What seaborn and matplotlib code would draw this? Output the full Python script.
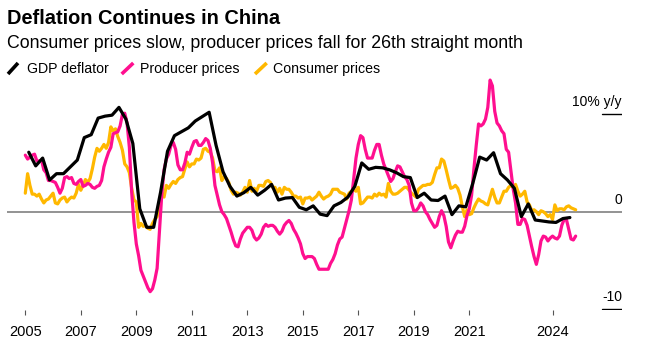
import numpy as np
import pandas as pd
import matplotlib
matplotlib.use("Agg")
import matplotlib.pyplot as plt
from matplotlib.lines import Line2D
import seaborn as sns

TITLE = "Deflation Continues in China"
SUBTITLE = "Consumer prices slow, producer prices fall for 26th straight month"
SERIES = ["GDP deflator", "Producer prices", "Consumer prices"]
COLORS = {"GDP deflator": "#000000", "Producer prices": "#ff0f8f", "Consumer prices": "#ffb800"}
YEAR_TICKS = [2005, 2007, 2009, 2011, 2013, 2015, 2017, 2019, 2021, 2024]
Y_LABEL_VALUES = [10, 0, -10]
Y_LABEL_TEXTS = ["10% y/y", "0", "-10"]

# Monthly, Jan 2005 - Nov 2024 (% y/y)
producer_prices = [
    5.8, 5.4, 5.6, 5.8, 5.9, 5.2, 5.2, 5.3, 4.3, 4.0, 3.2, 3.2,
    3.1, 3.0, 2.5, 1.9, 2.4, 3.5, 3.6, 3.4, 3.5, 2.9, 2.8, 3.1,
    3.3, 2.6, 2.7, 2.9, 2.8, 2.5, 2.4, 2.6, 2.7, 3.2, 4.6, 5.4,
    6.1, 6.6, 8.0, 8.1, 8.2, 8.8, 10.0, 10.1, 9.1, 6.6, 2.0, -1.1,
    -3.3, -4.5, -6.0, -6.6, -7.2, -7.8, -8.2, -7.9, -7.0, -5.8, -2.1, 1.7,
    4.3, 5.4, 5.9, 6.8, 7.1, 6.4, 4.8, 4.3, 4.3, 5.0, 6.1, 5.9,
    6.6, 7.2, 7.3, 6.8, 6.8, 7.1, 7.5, 7.3, 6.5, 5.0, 2.7, 1.7,
    0.7, 0.0, -0.3, -0.7, -1.4, -2.1, -2.9, -3.5, -3.6, -2.8, -2.2, -1.9,
    -1.6, -1.6, -1.9, -2.6, -2.9, -2.7, -2.3, -1.6, -1.3, -1.5, -1.4, -1.4,
    -1.6, -2.0, -2.3, -2.0, -1.4, -1.1, -0.9, -1.2, -1.8, -2.2, -2.7, -3.3,
    -4.3, -4.8, -4.6, -4.6, -4.6, -4.8, -5.4, -5.9, -5.9, -5.9, -5.9, -5.9,
    -5.3, -4.9, -4.3, -3.4, -2.8, -2.6, -1.7, -0.8, 0.1, 1.2, 3.3, 5.5,
    6.9, 7.8, 7.6, 6.4, 5.5, 5.5, 5.5, 6.3, 6.9, 6.9, 5.8, 4.9,
    4.3, 3.7, 3.1, 3.4, 4.1, 4.7, 4.6, 4.1, 3.6, 3.3, 2.7, 0.9,
    0.1, 0.1, 0.4, 0.9, 0.6, 0.0, -0.3, -0.8, -1.2, -1.6, -1.4, -0.5,
    0.1, -0.4, -1.5, -3.1, -3.7, -3.0, -2.4, -2.0, -2.1, -2.1, -1.5, -0.4,
    0.3, 1.7, 4.4, 6.8, 9.0, 8.8, 9.0, 9.5, 10.7, 13.5, 12.9, 10.3,
    9.1, 8.8, 8.3, 8.0, 6.4, 6.1, 4.2, 2.3, 0.9, -1.3, -1.3, -0.7,
    -0.8, -1.4, -2.5, -3.6, -4.6, -5.4, -4.4, -3.0, -2.5, -2.6, -3.0, -2.7,
    -2.5, -2.7, -2.8, -2.5, -1.4, -0.8, -0.8, -1.8, -2.8, -2.9, -2.5,
]

consumer_prices = [
    1.9, 3.9, 2.7, 1.8, 1.8, 1.6, 1.8, 1.3, 0.9, 1.2, 1.3, 1.6,
    1.9, 0.9, 0.8, 1.2, 1.4, 1.5, 1.0, 1.3, 1.5, 1.4, 1.9, 2.8,
    2.2, 2.7, 3.3, 3.0, 3.4, 4.4, 5.6, 6.5, 6.2, 6.5, 6.9, 6.5,
    7.1, 8.7, 8.3, 8.5, 7.7, 7.1, 6.3, 4.9, 4.6, 4.0, 2.4, 1.2,
    1.0, -1.6, -1.2, -1.5, -1.4, -1.7, -1.8, -1.2, -0.8, -0.5, 0.6, 1.9,
    1.5, 2.7, 2.4, 2.8, 3.1, 2.9, 3.3, 3.5, 3.6, 4.4, 5.1, 4.6,
    4.9, 4.9, 5.4, 5.3, 5.5, 6.4, 6.5, 6.2, 6.1, 5.5, 4.2, 4.1,
    4.5, 3.2, 3.6, 3.4, 3.0, 2.2, 1.8, 2.0, 1.9, 1.7, 2.0, 2.5,
    2.0, 3.2, 2.1, 2.4, 2.1, 2.7, 2.7, 2.6, 3.1, 3.2, 3.0, 2.5,
    2.5, 2.0, 2.4, 1.8, 2.5, 2.3, 2.3, 2.0, 1.6, 1.6, 1.4, 1.5,
    0.8, 1.4, 1.4, 1.5, 1.2, 1.4, 1.6, 2.0, 1.6, 1.3, 1.5, 1.6,
    1.8, 2.3, 2.3, 2.3, 2.0, 1.9, 1.8, 1.3, 1.9, 2.1, 2.3, 2.1,
    2.5, 0.8, 0.9, 1.2, 1.5, 1.5, 1.4, 1.8, 1.6, 1.9, 1.7, 1.8,
    1.5, 2.9, 2.1, 1.8, 1.8, 1.9, 2.1, 2.3, 2.5, 2.5, 2.2, 1.9,
    1.7, 1.5, 2.3, 2.5, 2.7, 2.7, 2.8, 2.8, 3.0, 3.8, 4.5, 4.5,
    5.4, 5.2, 4.3, 3.3, 2.4, 2.5, 2.7, 2.4, 1.7, 0.5, -0.5, 0.2,
    -0.3, -0.2, 0.4, 0.9, 1.3, 1.1, 1.0, 0.8, 0.7, 1.5, 2.3, 1.5,
    0.9, 0.9, 1.5, 2.1, 2.1, 2.5, 2.7, 2.5, 2.8, 2.1, 1.6, 1.8,
    2.1, 1.0, 0.7, 0.1, 0.2, 0.0, -0.3, 0.1, 0.0, -0.2, -0.5, -0.3,
    -0.8, 0.7, 0.1, 0.3, 0.3, 0.2, 0.5, 0.6, 0.4, 0.3, 0.2,
]

# Quarterly, 2005 Q1 - 2024 Q3 (% y/y)
gdp_deflator = [
    6.1, 4.7, 5.5, 3.25,
    3.9, 3.9, 4.6, 5.3,
    7.6, 7.9, 9.6, 9.8,
    9.9, 10.7, 9.5, 7.0,
    0.3, -1.6, -1.6, 2.0,
    6.2, 7.8, 8.2, 8.6,
    9.3, 9.75, 10.2, 6.8,
    4.1, 2.6, 1.6, 1.95,
    2.5, 1.7, 2.2, 2.8,
    1.2, 1.4, 1.45, 0.45,
    0.2, 0.6, -0.25, -0.4,
    0.6, 0.95, 1.5, 2.6,
    5.0, 4.35, 4.55, 4.5,
    4.3, 4.0, 3.6, 3.5,
    1.45, 1.9, 1.2, 1.15,
    1.6, -0.3, 0.6, 0.5,
    2.9, 5.6, 5.3, 6.05,
    3.9, 3.25, 2.4, -0.5,
    0.8, -0.85, -0.95, -1.05,
    -1.1, -0.7, -0.6,
]

month_pos = 2005 + np.arange(len(producer_prices)) / 12.0
quarter_pos = 2005 + np.arange(len(gdp_deflator)) / 4.0 + 0.125

df = pd.concat([
    pd.DataFrame({"t": quarter_pos, "value": gdp_deflator, "series": SERIES[0]}),
    pd.DataFrame({"t": month_pos, "value": producer_prices, "series": SERIES[1]}),
    pd.DataFrame({"t": month_pos, "value": consumer_prices, "series": SERIES[2]}),
], ignore_index=True)

sns.set_theme(style="white")
plt.rcParams["font.family"] = ["Liberation Sans", "DejaVu Sans"]

W, H = 652, 356
fig = plt.figure(figsize=(W / 100, H / 100), dpi=100, facecolor="white")


def fx(px):
    return px / W


def fy(py):
    return 1 - py / H


left_px, right_px, top_px, bottom_px = 7, 622, 75, 310
ax = fig.add_axes([fx(left_px), fy(bottom_px), fx(right_px) - fx(left_px), fy(top_px) - fy(bottom_px)])
ax.set_facecolor("white")

ax.axhline(0, color="#8a8a8a", lw=1.3, zorder=1)
tick_frac = (602 - left_px) / (right_px - left_px)
for v in (10, -10):
    ax.axhline(v, xmin=tick_frac, xmax=1, color="#000000", lw=1.0, zorder=1)

for i, name in enumerate([SERIES[2], SERIES[1], SERIES[0]]):
    sns.lineplot(data=df[df["series"] == name], x="t", y="value", color=COLORS[name],
                 linewidth=2.3, ax=ax, legend=False, zorder=3 + i)

ax.set_xlim(2004.3405, 2026.503)
ax.set_ylim(-10.08, 14.02)
for s in ax.spines.values():
    s.set_visible(False)
ax.set_yticks([])
ax.set_xlabel("")
ax.set_ylabel("")
ax.set_xticks(YEAR_TICKS)
ax.set_xticklabels([str(y) for y in YEAR_TICKS])
ax.tick_params(axis="x", bottom=True, length=3.6, width=0.8, color="#555555",
               direction="out", pad=7, labelsize=10.5, labelcolor="#000000")
ax.grid(False)

for v, txt in zip(Y_LABEL_VALUES, Y_LABEL_TEXTS):
    ax.annotate(txt, xy=(1, v), xycoords=ax.get_yaxis_transform(), xytext=(0, 5.8),
                textcoords="offset points", ha="right", va="baseline", fontsize=10,
                color="#000000", annotation_clip=False)

fig.text(fx(7), fy(24), TITLE, fontsize=14.4, fontweight="bold", va="baseline", ha="left", color="#000000")
fig.text(fx(7), fy(48.3), SUBTITLE, fontsize=12.8, va="baseline", ha="left", color="#000000")

legend_slash = [(8, 18), (121.7, 133.3), (255, 266.7)]
legend_text_x = [26.7, 140, 272.7]
for name, (x0, x1), tx in zip(SERIES, legend_slash, legend_text_x):
    fig.add_artist(Line2D([fx(x0), fx(x1)], [fy(74), fy(63)], transform=fig.transFigure,
                          color=COLORS[name], lw=2.6, solid_capstyle="butt"))
    fig.text(fx(tx), fy(72.7), name, fontsize=10.2, va="baseline", ha="left", color="#000000")

fig.savefig("out.png", dpi=100, facecolor="white")
